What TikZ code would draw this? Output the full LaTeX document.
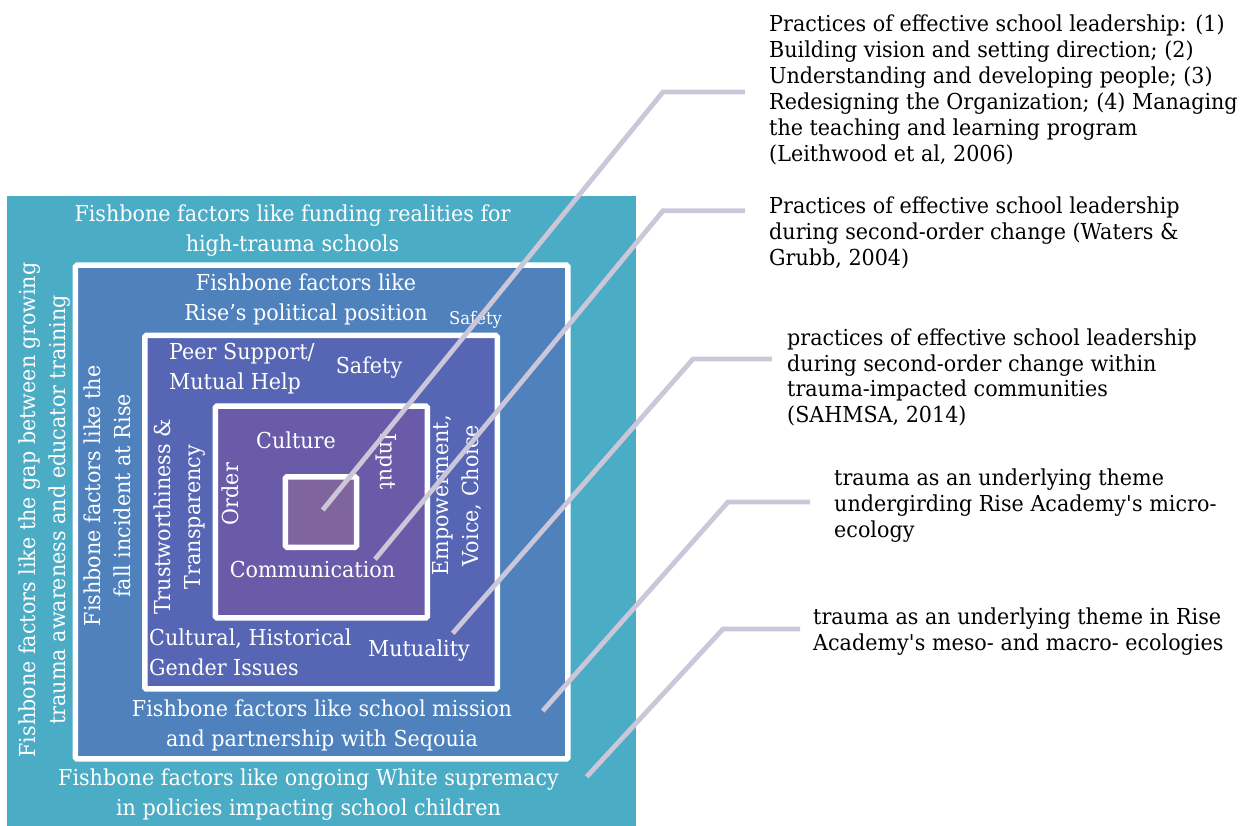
\documentclass[tikz,border=0pt]{standalone}
\usepackage{fontspec}
\setmainfont{DejaVu Serif}[FakeStretch=0.94]
\definecolor{outerteal}{HTML}{4BACC6}
\definecolor{mesoblue}{HTML}{4F81BD}
\definecolor{microblue}{HTML}{5666B4}
\definecolor{corepurple}{HTML}{6A5BA8}
\definecolor{heartpurple}{HTML}{80649E}
\definecolor{leadergray}{HTML}{CCC6D9}
\begin{document}
\begin{tikzpicture}[x=1pt,y=-1pt,
  ring/.style={draw=white, line width=5.5pt, rounded corners=1.5pt},
  lbl/.style={text=white, inner sep=0pt, align=center,
    font=\fontsize{22}{30}\selectfont},
  lblleft/.style={lbl, align=left, anchor=north west},
  note/.style={text=black, inner sep=0pt, align=left, anchor=north west,
    font=\fontsize{22}{26}\selectfont},
  leader/.style={draw=leadergray, line width=4.8pt}]
\useasboundingbox (0,0) rectangle (1252,826);

% nested ecology squares
\fill[outerteal] (7,196.5) rectangle (636,826);
\filldraw[ring, fill=mesoblue] (75.45,265.25) rectangle (567.95,758.95);
\filldraw[ring, fill=microblue] (144.75,335.45) rectangle (497.25,688.95);
\filldraw[ring, fill=corepurple] (215.45,406.05) rectangle (427.25,617.95);
\filldraw[ring, fill=heartpurple] (285.45,476.75) rectangle (356.55,547.25);

% outer ring labels
\node[lbl, anchor=north] (fund) at (292.5,205) {Fishbone factors like funding realities for\\high-trauma schools};
\node[lbl, anchor=north, rotate=90] (gap) at (18.3,510) {Fishbone factors like the gap between growing\\trauma awareness and educator training};
\node[lbl, anchor=north] (white) at (308.5,769) {Fishbone factors like ongoing White supremacy\\in policies impacting school children};

% second ring labels
\node[lbl, anchor=north] (pol) at (306,274) {Fishbone factors like\\Rise’s political position};
\node[lbl, anchor=base, font=\fontsize{17.5}{20}\selectfont] (safesmall) at (475.5,324) {Safety};
\node[lbl, anchor=north, rotate=90] (fall) at (83.3,496) {Fishbone factors like the\\fall incident at Rise};
\node[lbl, anchor=north] (mission) at (322,700) {Fishbone factors like school mission\\and partnership with Seqouia};

% third ring labels
\node[lblleft] (peer) at (169,343.3) {Peer Support/\\Mutual Help};
\node[lbl, anchor=base] (safety) at (369,373.3) {Safety};
\node[lbl, anchor=north, rotate=90] (trust) at (153.3,517) {Trustworthiness \&\\Transparency};
\node[lbl, anchor=north, rotate=90] (emp) at (431.8,495.5) {Empowerment,\\Voice, Choice};
\node[lblleft] (cult) at (149,628.3) {Cultural, Historical\\Gender Issues};
\node[lbl, anchor=base] (mutual) at (419,656.7) {Mutuality};

% core labels
\node[lbl, anchor=base] (culture) at (296,448.3) {Culture};
\node[lbl, anchor=base, rotate=90] (order) at (238,494) {Order};
\node[lbl, anchor=base, rotate=-90] (input) at (380.5,461.5) {Input};
\node[lbl, anchor=base] (comm) at (312.5,577.3) {Communication};

% literature notes
\node[note] (t1) at (769,14.3) {Practices of effective school leadership: (1)\\Building vision and setting direction; (2)\\Understanding and developing people; (3)\\Redesigning the Organization; (4) Managing\\the teaching and learning program\\(Leithwood et al, 2006)};
\node[note] (t2) at (769,196.6) {Practices of effective school leadership\\during second-order change (Waters \&\\Grubb, 2004)};
\node[note, font=\fontsize{22}{25.4}\selectfont] (t3) at (787,329) {practices of effective school leadership\\during second-order change within\\trauma-impacted communities\\(SAHMSA, 2014)};
\node[note] (t4) at (834,469) {trauma as an underlying theme\\undergirding Rise Academy\textquotesingle s micro-\\ecology};
\node[note] (t5) at (813,607.6) {trauma as an underlying theme in Rise\\Academy\textquotesingle s meso- and macro- ecologies};

% leader lines: anchor point, elbow, free end
\coordinate (a1) at (322.7,510);   \coordinate (k1) at (663,92);    \coordinate (e1) at (745,92);
\coordinate (a2) at (375,559.3);   \coordinate (k2) at (663,210.7); \coordinate (e2) at (745,210.7);
\coordinate (a3) at (452.7,633.3); \coordinate (k3) at (693,359);   \coordinate (e3) at (772,359);
\coordinate (a4) at (542.7,711);   \coordinate (k4) at (728,502);   \coordinate (e4) at (810,502);
\coordinate (a5) at (586.7,776.7); \coordinate (k5) at (723,629);   \coordinate (e5) at (800,629);
\draw[leader] (a1) -- (k1) -- (e1);
\draw[leader] (a2) -- (k2) -- (e2);
\draw[leader] (a3) -- (k3) -- (e3);
\draw[leader] (a4) -- (k4) -- (e4);
\draw[leader] (a5) -- (k5) -- (e5);
\end{tikzpicture}
\end{document}
